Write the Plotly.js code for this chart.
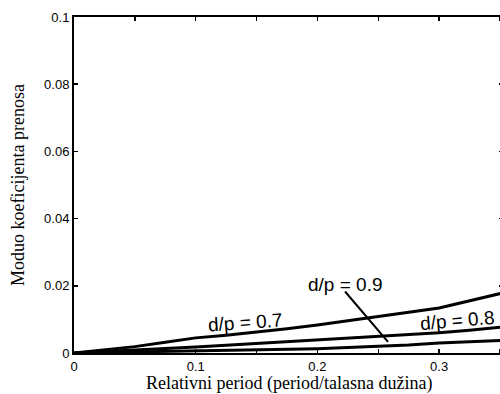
<!DOCTYPE html>
<html>
<head>
<meta charset="utf-8">
<script src="https://cdn.plot.ly/plotly-3.0.1.min.js"></script>
<style>
html,body{margin:0;padding:0;overflow:hidden;background:#fff;}
#chart{width:504px;height:394px;}
</style>
</head>
<body>
<div id="chart"></div>
<script>
var xVals = [0, 0.025, 0.05, 0.075, 0.1, 0.125, 0.15, 0.175, 0.2, 0.225, 0.25, 0.275, 0.3, 0.325, 0.355];
var dp07 = [0, 0.0009, 0.0019, 0.0032, 0.0045, 0.0053, 0.0062, 0.0072, 0.0083, 0.0095, 0.0108, 0.0121, 0.0134, 0.0155, 0.0181];
var dp08 = [0, 0.0004, 0.0008, 0.0013, 0.0018, 0.0023, 0.0028, 0.0034, 0.0039, 0.0043, 0.0048, 0.0054, 0.0060, 0.0068, 0.0078];
var dp09 = [0, 0.00015, 0.0003, 0.0005, 0.0007, 0.00085, 0.0010, 0.00115, 0.0013, 0.0016, 0.0019, 0.0024, 0.0030, 0.0033, 0.0038];
var seriesNames = ['d/p = 0.7', 'd/p = 0.8', 'd/p = 0.9'];
var xTickVals = [0, 0.05, 0.1, 0.15, 0.2, 0.25, 0.3, 0.35];
var xTickText = ['0', '', '0.1', '', '0.2', '', '0.3', ''];
var yTickVals = [0, 0.02, 0.04, 0.06, 0.08, 0.1];
var yTickText = ['0', '0.02', '0.04', '0.06', '0.08', '0.1'];

var series = [dp07, dp08, dp09];
var traces = series.map(function (ys, i) {
  return {
    x: xVals, y: ys, name: seriesNames[i], type: 'scatter', mode: 'lines',
    line: {color: '#000', width: 3}, showlegend: false, hoverinfo: 'skip'
  };
});

var tickFont = {family: 'Liberation Sans, Arial, sans-serif', size: 13, color: '#000'};
var labelFont = {family: 'Liberation Sans, Arial, sans-serif', size: 19, color: '#000'};
var titleFont = {family: 'Liberation Serif, Times New Roman, serif', size: 18, color: '#000'};
var layout = {
  width: 504, height: 394,
  margin: {l: 74, r: 1, t: 17, b: 41},
  paper_bgcolor: '#fff', plot_bgcolor: '#fff',
  showlegend: false,
  xaxis: {
    range: [0, 0.3525], showgrid: false, zeroline: false,
    showline: true, linecolor: '#000', linewidth: 2, mirror: 'ticks',
    ticks: 'inside', ticklen: 4, tickwidth: 1.5, tickcolor: '#000',
    tickvals: xTickVals, ticktext: xTickText, tickfont: tickFont
  },
  yaxis: {
    range: [0, 0.1], showgrid: false, zeroline: false,
    showline: true, linecolor: '#000', linewidth: 2, mirror: 'ticks',
    ticks: 'inside', ticklen: 4, tickwidth: 1.5, tickcolor: '#000',
    tickvals: yTickVals, ticktext: yTickText, tickfont: tickFont
  },
  annotations: [
    {xref: 'paper', yref: 'paper', x: 0.5, y: 0, yshift: -30, xanchor: 'center', yanchor: 'middle',
     showarrow: false, text: 'Relativni period (period/talasna dužina)', font: titleFont},
    {xref: 'paper', yref: 'paper', x: 0, y: 0.5, xshift: -56, xanchor: 'center', yanchor: 'middle',
     showarrow: false, textangle: -90, text: 'Moduo koeficijenta prenosa', font: titleFont},
    {xref: 'x', yref: 'y', x: 0.1405, y: 0.0090, showarrow: false, textangle: -4, text: seriesNames[0], font: labelFont},
    {xref: 'x', yref: 'y', x: 0.3147, y: 0.0097, showarrow: false, textangle: -5, text: seriesNames[1], font: labelFont},
    {xref: 'x', yref: 'y', x: 0.2227, y: 0.0205, showarrow: false, text: seriesNames[2], font: labelFont}
  ],
  shapes: [
    {type: 'line', xref: 'x', yref: 'y', x0: 0.2227, y0: 0.0183, x1: 0.258, y1: 0.0033,
     line: {color: '#000', width: 2}}
  ]
};

Plotly.newPlot('chart', traces, layout, {displayModeBar: false, staticPlot: true});
</script>
</body>
</html>
